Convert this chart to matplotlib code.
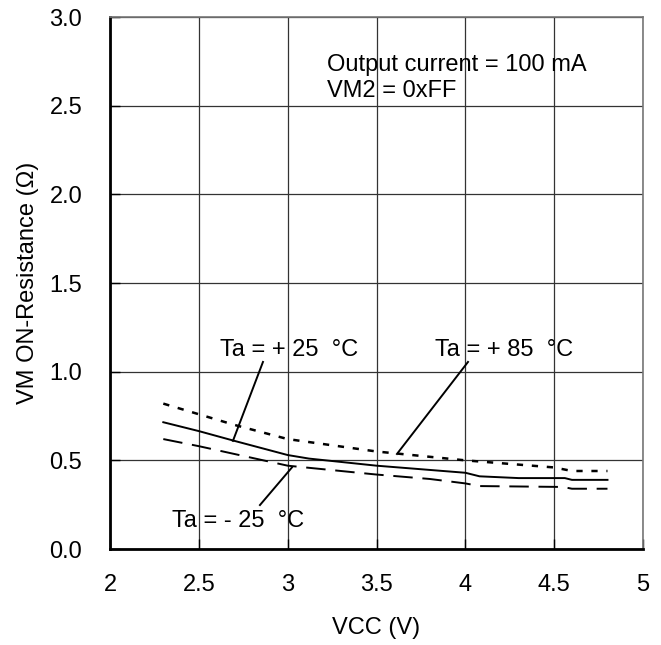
import numpy as np
import matplotlib.pyplot as plt

plt.rcParams['font.family'] = ['Liberation Sans', 'DejaVu Sans']

# VCC (V) vs VM ON-resistance (ohm)
vcc_85 = [2.3, 2.5, 2.7, 3.0, 3.5, 4.0, 4.5, 4.6, 4.8]
r_85 = [0.82, 0.76, 0.70, 0.62, 0.55, 0.50, 0.46, 0.44, 0.44]

vcc_25 = [2.3, 2.5, 2.7, 3.0, 3.12, 3.5, 4.0, 4.08, 4.3, 4.56, 4.6, 4.8]
r_25 = [0.715, 0.665, 0.61, 0.53, 0.51, 0.47, 0.43, 0.41, 0.40, 0.40, 0.39, 0.39]

vcc_m25 = [2.3, 2.5, 3.0, 3.5, 3.8, 4.0, 4.08, 4.55, 4.6, 4.8]
r_m25 = [0.62, 0.58, 0.47, 0.42, 0.395, 0.37, 0.355, 0.35, 0.34, 0.34]

xticks = [2, 2.5, 3, 3.5, 4, 4.5, 5]
xticklabels = ['2', '2.5', '3', '3.5', '4', '4.5', '5']
yticks = [0.0, 0.5, 1.0, 1.5, 2.0, 2.5, 3.0]

fs = 17

fig = plt.figure(figsize=(6.61, 6.45), dpi=100)
ax = fig.add_axes([0.1664, 0.1488, 0.8064, 0.8248])

ax.plot(vcc_85, r_85, color='black', lw=1.8, dashes=(2.5, 3.5))
ax.plot(vcc_25, r_25, color='black', lw=1.4)
ax.plot(vcc_m25, r_m25, color='black', lw=1.4, dashes=(10, 5))

ax.set_xlim(2, 5)
ax.set_ylim(0, 3)
ax.set_xticks(xticks)
ax.set_xticklabels(xticklabels)
ax.set_yticks(yticks)
ax.set_yticklabels([f'{v:.1f}' for v in yticks])
ax.grid(True, color='#333333', lw=0.9)
ax.tick_params(direction='in', length=7, width=1, labelsize=fs)
ax.tick_params(axis='x', pad=18)
ax.tick_params(axis='y', pad=20)

ax.spines['left'].set_linewidth(2)
ax.spines['bottom'].set_linewidth(2)
ax.spines['top'].set_color('#777777')
ax.spines['right'].set_color('#777777')
ax.spines['top'].set_linewidth(1.2)
ax.spines['right'].set_linewidth(1.2)

ax.set_xlabel('VCC (V)', fontsize=fs)
ax.set_ylabel('VM ON-Resistance (Ω)', fontsize=fs)
ax.xaxis.set_label_coords(0.5, -0.1485)
ax.xaxis.label.set_va('center')
ax.yaxis.set_label_coords(-0.154, 0.5)
ax.yaxis.label.set_va('center')

ax.text(3.221, 2.693, 'Output current = 100 mA', fontsize=fs, va='baseline')
ax.text(3.221, 2.548, 'VM2 = 0xFF', fontsize=fs, va='baseline')

ax.text(2.619, 1.089, 'Ta = + 25  °C', fontsize=fs, va='baseline')
ax.text(3.829, 1.089, 'Ta = + 85  °C', fontsize=fs, va='baseline')
ax.text(2.349, 0.124, 'Ta = - 25  °C', fontsize=fs, va='baseline')

ax.plot([2.861, 2.692], [1.055, 0.61], color='black', lw=1.4)
ax.plot([4.015, 3.615], [1.055, 0.536], color='black', lw=1.4)
ax.plot([3.024, 2.844], [0.46, 0.248], color='black', lw=1.4)

fig.savefig('out.png', dpi=100)
